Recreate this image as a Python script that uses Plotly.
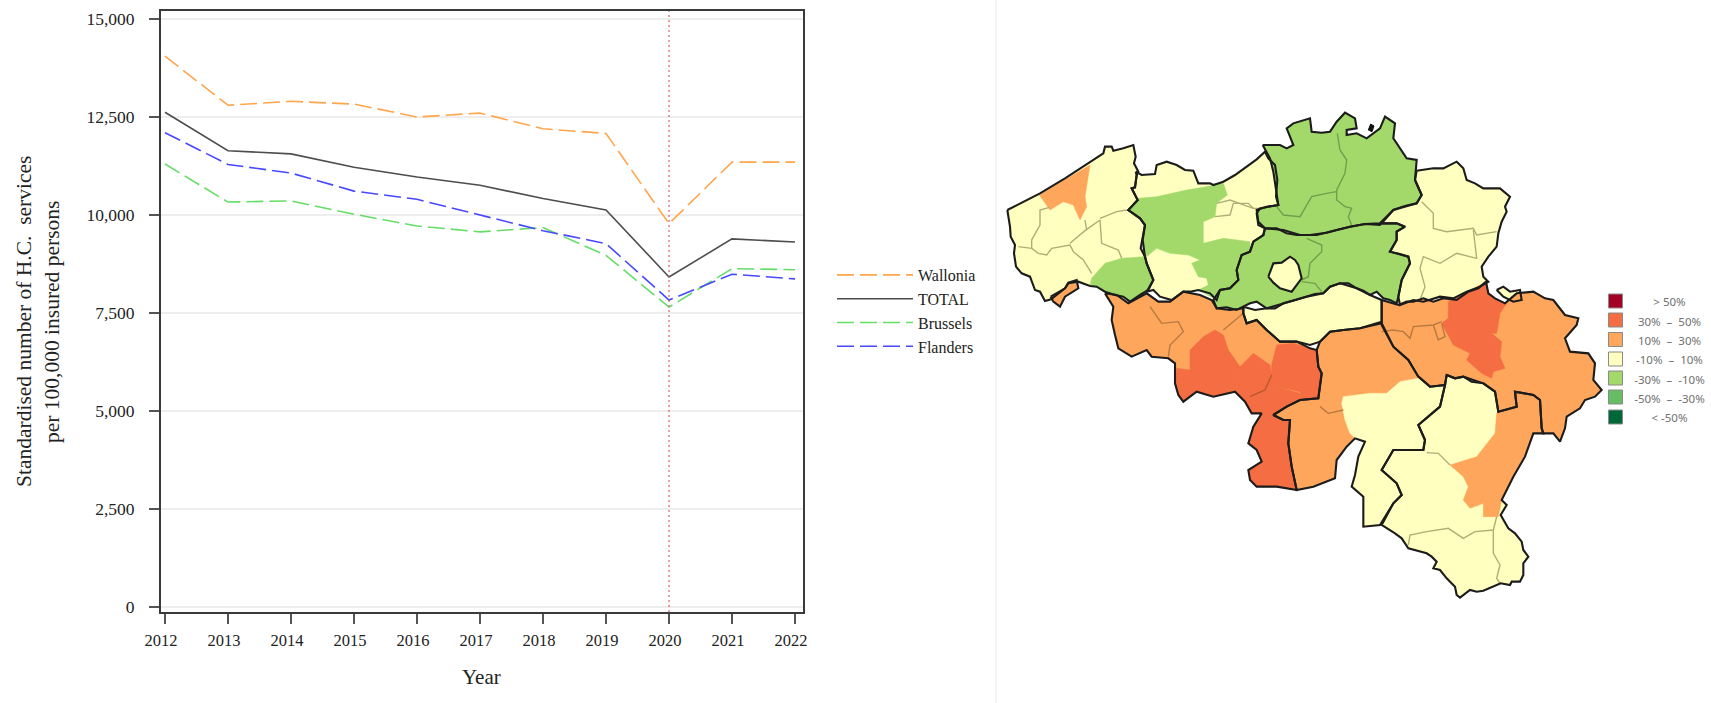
import plotly.graph_objects as go

# ---------- line chart data ----------
YEARS = [2012, 2013, 2014, 2015, 2016, 2017, 2018, 2019, 2020, 2021, 2022]
WALLONIA = [14050, 12800, 12900, 12830, 12500, 12600, 12200, 12080, 9780, 11350, 11350]
TOTAL = [12620, 11640, 11560, 11220, 10970, 10760, 10420, 10130, 8420, 9390, 9310]
BRUSSELS = [11300, 10330, 10360, 10020, 9720, 9570, 9680, 8970, 7650, 8630, 8605]
FLANDERS = [12100, 11290, 11070, 10610, 10400, 10000, 9600, 9270, 7830, 8490, 8370]
Y_TICKS = [0, 2500, 5000, 7500, 10000, 12500, 15000]

# ---------- map legend ----------
CLASS_COLORS = ["#A50026", "#F46D43", "#FDA65C", "#FFFFBF", "#A3D96A", "#66BD63", "#006837"]
CLASS_LABELS = ["> 50%", "30%  –  50%", "10%  –  30%", "-10%  –  10%", "-30%  –  -10%", "-50%  –  -30%", "< -50%"]
RED, ORANGE, YELLOW, GREEN = CLASS_COLORS[1], CLASS_COLORS[2], CLASS_COLORS[3], CLASS_COLORS[4]

# ---------- map geometry (traced, in three local traced frames: units are 1/3 px) ----------
A, B, C = (990, 100), (1080, 270), (1250, 100)

WEST_FLANDERS = [(52,330),(100,305),(150,280),(225,235),(300,185),(340,160),(345,140),(365,140),(370,152),(400,145),(430,135),(437,170),(432,190),(445,215),(440,225),(435,262),(425,265),(443,300),(415,330),(450,355),(465,375),(458,420),(452,445),(465,470),(470,490),(490,540),(475,570),(450,585),(420,605),(400,590),(375,585),(345,575),(320,560),(300,558),(265,545),(235,550),(225,565),(183,598),(165,603),(150,575),(135,570),(120,530),(95,520),(78,500),(72,460),(75,435),(62,410),(60,380)]
EAST_FLANDERS = [(437,215),(455,225),(495,222),(500,195),(530,185),(560,195),(585,210),(610,212),(625,250),(660,250),(670,255),(700,245),(735,225),(770,200),(800,178),(825,155),(835,175),(855,195),(862,240),(858,290),(865,315),(810,325),(800,340),(805,375),(825,385),(820,405),(790,425),(780,455),(755,465),(740,510),(745,540),(720,565),(690,570),(680,600),(660,580),(625,570),(600,575),(580,575),(545,600),(510,590),(490,570),(470,575),(490,540),(470,490),(465,470),(458,420),(465,375),(450,355),(415,330),(443,300),(425,265),(435,262),(440,225)]
ANTWERP = [(38,135),(90,135),(110,145),(130,135),(120,110),(110,85),(130,70),(180,55),(185,95),(215,98),(240,95),(260,65),(285,38),(315,55),(320,85),(290,90),(290,105),(320,100),(350,115),(390,85),(405,50),(435,70),(430,115),(450,145),(470,175),(500,180),(495,240),(515,285),(500,310),(465,318),(430,330),(390,370),(345,372),(300,380),(260,390),(230,398),(200,405),(150,405),(125,398),(100,390),(45,385),(25,365),(20,330),(50,320),(85,315),(78,270),(70,215),(60,175)]
FLEMISH_BRABANT = [(45,385),(80,385),(110,400),(140,405),(180,405),(230,398),(260,390),(300,380),(345,372),(390,375),(395,370),(440,370),(465,380),(440,395),(440,420),(420,455),(450,462),(475,470),(480,490),(455,540),(445,590),(440,610),(420,600),(400,595),(380,575),(360,585),(340,572),(320,565),(295,550),(270,550),(240,560),(220,580),(195,582),(170,590),(135,600),(100,610),(75,625),(50,625),(20,605),(0,610),(-20,620),(-40,630),(-70,622),(-100,625),(-110,600),(-90,570),(-60,565),(-35,540),(-40,510),(-25,465),(0,455),(10,425),(40,405)]
BRUSSELS_REGION = [(55,530),(70,490),(95,488),(120,470),(135,480),(145,495),(155,535),(125,575),(90,565),(70,548)]
LIMBURG = [(500,212),(550,205),(580,205),(620,185),(640,205),(650,240),(675,250),(700,265),(750,265),(780,290),(765,320),(770,335),(755,365),(745,400),(740,440),(715,470),(695,500),(700,530),(715,545),(690,560),(650,575),(610,595),(570,590),(520,605),(490,600),(450,615),(445,590),(455,540),(480,490),(475,470),(420,455),(440,420),(440,395),(465,380),(440,370),(395,370),(430,330),(500,310),(515,285),(495,240)]
VOEREN = [(740,570),(760,560),(780,575),(810,570),(815,600),(790,605),(760,590)]
BAARLE = [(355,90),(362,72),(372,78),(366,95)]
COMINES = [(182,590),(225,565),(235,548),(260,540),(265,565),(225,590),(210,620),(190,605)]

LIEGE = [(905,90),(955,105),(980,95),(1000,95),(1030,85),(1060,95),(1090,85),(1130,90),(1165,65),(1195,55),(1218,35),(1225,70),(1245,85),(1275,100),(1310,70),(1360,65),(1395,85),(1420,90),(1455,135),(1495,145),(1490,165),(1455,205),(1470,245),(1525,250),(1545,280),(1540,330),(1565,360),(1545,380),(1515,390),(1500,415),(1460,440),(1455,475),(1440,515),(1420,490),(1390,490),(1385,475),(1380,390),(1360,375),(1305,365),(1310,410),(1255,425),(1245,365),(1210,340),(1175,335),(1150,320),(1125,325),(1100,315),(1095,345),(1050,350),(1015,320),(985,270),(940,230),(905,165)]
WALLOON_BRABANT = [(490,110),(525,120),(560,115),(610,100),(650,90),(680,80),(730,70),(750,50),(780,40),(830,55),(870,75),(905,90),(905,155),(840,175),(790,180),(750,185),(720,215),(690,225),(650,215),(600,215),(560,180),(530,150),(500,160),(490,130)]
HAINAUT = [(75,70),(110,75),(145,100),(200,70),(235,95),(270,95),(310,65),(360,75),(395,90),(410,115),(450,120),(490,115),(490,130),(500,160),(530,150),(560,180),(600,215),(650,215),(690,235),(710,240),(715,290),(725,310),(715,385),(660,390),(620,410),(580,435),(610,450),(630,450),(625,520),(635,590),(650,660),(620,655),(590,650),(530,650),(510,630),(505,600),(545,575),(530,540),(505,520),(520,470),(545,430),(515,430),(495,395),(465,365),(430,372),(400,380),(350,365),(310,395),(295,375),(285,340),(285,280),(265,265),(215,260),(200,240),(155,260),(115,235),(105,195),(95,150),(100,110)]
NAMUR = [(905,160),(840,175),(790,180),(750,185),(720,215),(710,240),(715,290),(725,310),(715,385),(660,390),(620,410),(580,435),(610,450),(630,450),(625,520),(635,590),(650,660),(700,650),(765,625),(770,570),(800,530),(825,505),(855,515),(835,560),(825,615),(815,650),(850,680),(850,770),(900,765),(940,700),(965,675),(950,640),(905,600),(940,540),(1030,540),(1035,510),(1015,465),(1080,410),(1095,345),(1050,350),(1015,320),(985,270),(940,230)]
LUXEMBOURG = [(1100,315),(1125,325),(1150,320),(1210,340),(1245,365),(1255,425),(1310,410),(1305,365),(1360,375),(1380,390),(1385,475),(1390,490),(1360,490),(1335,560),(1300,620),(1280,660),(1265,690),(1280,705),(1262,735),(1285,775),(1305,790),(1325,815),(1330,840),(1345,860),(1330,880),(1330,915),(1320,935),(1295,935),(1290,945),(1262,940),(1240,950),(1210,962),(1190,965),(1170,960),(1140,983),(1130,975),(1125,950),(1100,925),(1080,900),(1060,895),(1070,875),(1055,860),(1040,850),(1005,840),(985,835),(965,805),(945,790),(905,765),(940,700),(965,675),(950,640),(905,600),(940,540),(1030,540),(1035,510),(1015,465),(1080,410),(1095,345)]

OSTEND = [(148,285),(300,195),(285,290),(290,320),(270,360),(250,315),(220,305),(180,330)]
KORTRIJK = [(305,535),(345,490),(395,475),(450,470),(465,470),(490,540),(475,570),(420,605),(400,590),(345,575),(320,560),(300,555)]
GENT = [(420,330),(445,295),(500,290),(590,270),(640,262),(700,250),(712,285),(680,310),(675,350),(640,365),(640,435),(630,480),(595,465),(540,460),(500,445),(470,470),(458,420),(465,375),(450,355)]
AALST = [(640,430),(700,415),(780,425),(780,455),(755,465),(740,510),(745,540),(720,565),(690,570),(680,600),(625,570),(655,555),(650,535),(625,530),(605,490),(630,480)]
MONS = [(290,295),(330,300),(330,240),(370,200),(405,180),(430,195),(445,240),(480,290),(465,360),(400,380),(350,365),(310,395),(295,375),(285,340)]
THUIN = [(465,360),(480,290),(520,250),(570,285),(575,310),(590,350),(660,370),(665,385),(620,410),(580,435),(610,450),(630,450),(625,520),(650,660),(590,650),(530,650),(510,630),(505,600),(545,575),(530,540),(505,520),(520,470),(545,430),(515,430),(495,395)]
CHARLEROI = [(590,225),(640,220),(690,235),(710,240),(715,290),(725,310),(715,385),(665,385),(660,365),(590,350),(575,315),(575,285)]
DINANT = [(790,380),(870,370),(920,370),(960,335),(1015,325),(1050,350),(1095,345),(1080,410),(1015,465),(1035,510),(1030,540),(940,540),(905,600),(950,640),(965,675),(940,700),(900,765),(850,770),(850,680),(815,650),(825,615),(835,560),(855,515),(825,505),(810,490),(795,450),(785,400)]
BASTOGNE = [(1110,585),(1190,560),(1245,490),(1250,430),(1255,425),(1310,410),(1305,365),(1360,375),(1380,390),(1385,475),(1390,490),(1360,490),(1335,560),(1300,620),(1280,660),(1265,690),(1255,740),(1210,740),(1210,700),(1170,715),(1150,690),(1165,650),(1150,620)]
LIEGE_CENTRE = [(1218,35),(1225,70),(1245,85),(1280,100),(1260,130),(1250,190),(1235,190),(1265,215),(1260,260),(1275,295),(1240,305),(1235,325),(1205,310),(1160,270),(1170,250),(1120,225),(1085,160),(1105,145),(1105,95),(1165,65)]

BASE_FILLS = [
    (A, YELLOW, WEST_FLANDERS), (A, YELLOW, EAST_FLANDERS), (C, GREEN, ANTWERP),
    (C, GREEN, FLEMISH_BRABANT), (C, YELLOW, LIMBURG), (C, YELLOW, VOEREN), (C, YELLOW, BRUSSELS_REGION),
    (A, ORANGE, COMINES), (B, ORANGE, LIEGE), (B, YELLOW, WALLOON_BRABANT), (B, ORANGE, HAINAUT),
    (B, ORANGE, NAMUR), (B, YELLOW, LUXEMBOURG),
    (A, ORANGE, OSTEND), (A, GREEN, KORTRIJK), (A, GREEN, GENT), (A, GREEN, AALST),
    (B, RED, MONS), (B, RED, THUIN), (B, RED, CHARLEROI), (B, YELLOW, DINANT), (B, ORANGE, BASTOGNE), (B, RED, LIEGE_CENTRE),
]
THIN_LINES = [
    (A, "#aeae76", [(178,322),(150,330),(150,375),(125,420),(125,445),(145,460),(170,465),(185,445),(240,435),(250,455),(280,480),(305,520)]),
    (A, "#aeae76", [(240,430),(285,392),(330,360),(335,430),(385,450),(395,475)]),
    (A, "#aeae76", [(285,360),(290,390)]), (A, "#aeae76", [(330,355),(380,335),(410,330)]), (A, "#aeae76", [(85,440),(125,445)]),
    (A, "#aeae76", [(680,310),(720,300),(790,325),(810,325)]), (A, "#aeae76", [(675,350),(720,345),(730,310),(775,310),(790,325)]),
    (C, "#6fa04d", [(170,415),(215,435),(215,455),(180,490),(175,530),(155,540)]), (C, "#6fa04d", [(155,545),(195,550),(215,575)]),
    (C, "#6fa04d", [(262,100),(270,150),(290,180),(285,220),(260,270),(260,300),(285,320),(305,325),(295,350),(305,375)]),
    (C, "#6fa04d", [(260,275),(230,280),(185,290),(150,350),(100,345),(80,320)]),
    (C, "#aeae76", [(515,305),(550,340),(550,385),(590,395),(670,385),(680,405),(740,395)]),
    (C, "#aeae76", [(670,390),(680,475),(620,460),(570,490),(520,470),(510,505),(525,560),(510,600)]),
    (B, "#aeae76", [(1040,548),(1075,550),(1110,585)]),
    (B, "#aeae76", [(985,825),(990,795),(1040,785),(1105,775),(1150,805),(1185,785),(1240,780),(1250,740)]),
    (B, "#aeae76", [(1240,780),(1240,850),(1260,885),(1250,925),(1260,940)]),
    (B, "#b87a40", [(720,410),(745,430),(790,420)]),
    (B, "#b87a40", [(905,185),(940,180),(970,185),(990,205),(1000,170),(1060,165),(1085,155)]),
    (B, "#b87a40", [(1060,165),(1075,210),(1095,200),(1085,160)]),
    (B, "#b87a40", [(210,110),(245,160),(295,155),(310,185),(270,225),(265,260)]),
    (B, "#b87a40", [(490,130),(430,180)]),
    (B, "#b85a30", [(575,315),(555,360),(510,380)]),
]
THICK_OUTLINES = [
    (A, WEST_FLANDERS), (A, EAST_FLANDERS), (C, ANTWERP), (C, FLEMISH_BRABANT), (C, BRUSSELS_REGION),
    (C, LIMBURG), (C, VOEREN), (A, COMINES), (B, LIEGE), (B, WALLOON_BRABANT), (B, HAINAUT), (B, NAMUR), (B, LUXEMBOURG),
]


def to_px(origin, pts):
    return [origin[0] + p[0] / 3 for p in pts], [origin[1] + p[1] / 3 for p in pts]


def closed(seq):
    return list(seq) + [seq[0]]


fig = go.Figure()

SERIF = "Liberation Serif"
SERIES = [
    ("Wallonia", WALLONIA, "#FFA64D", "17px,6px"),
    ("TOTAL", TOTAL, "#4d4d4d", "solid"),
    ("Brussels", BRUSSELS, "#66DD66", "17px,6px"),
    ("Flanders", FLANDERS, "#4848FF", "17px,6px"),
]
for name, values, color, dash in SERIES:
    fig.add_trace(go.Scatter(x=YEARS, y=values, name=name, mode="lines", legendgroup=name,
                             line=dict(color=color, width=1.6, dash=dash), hoverinfo="skip"))

# map fills
for origin, color, pts in BASE_FILLS:
    xs, ys = to_px(origin, closed(pts))
    fig.add_trace(go.Scatter(x=xs, y=ys, xaxis="x2", yaxis="y2", mode="lines", fill="toself", fillcolor=color,
                             line=dict(color=color, width=0.5), showlegend=False, hoverinfo="skip"))
for origin, color, pts in THIN_LINES:
    xs, ys = to_px(origin, pts)
    fig.add_trace(go.Scatter(x=xs, y=ys, xaxis="x2", yaxis="y2", mode="lines",
                             line=dict(color=color, width=1.4), showlegend=False, hoverinfo="skip"))
for origin, pts in THICK_OUTLINES:
    xs, ys = to_px(origin, closed(pts))
    fig.add_trace(go.Scatter(x=xs, y=ys, xaxis="x2", yaxis="y2", mode="lines",
                             line=dict(color="#1c1c1c", width=2.1), showlegend=False, hoverinfo="skip"))
xs, ys = to_px(C, closed(BAARLE))
fig.add_trace(go.Scatter(x=xs, y=ys, xaxis="x2", yaxis="y2", mode="lines", fill="toself", fillcolor="#111",
                         line=dict(color="#111", width=1), showlegend=False, hoverinfo="skip"))

# map legend
LEG_X, LEG_TEXT_X = 1615.5, 1669.5
LEG_Y = [301, 320, 339.5, 359, 378, 397, 417]
LEG_TEXT_Y = [303.5, 323, 342, 361, 381, 400, 419]
fig.add_trace(go.Scatter(x=[LEG_X] * 7, y=LEG_Y, xaxis="x2", yaxis="y2", mode="markers",
                         marker=dict(symbol="square", size=14, color=CLASS_COLORS, line=dict(color="#8a8a8a", width=1)),
                         showlegend=False, hoverinfo="skip"))
fig.add_trace(go.Scatter(x=[LEG_TEXT_X] * 7, y=LEG_TEXT_Y, xaxis="x2", yaxis="y2", mode="text", text=CLASS_LABELS,
                         textposition="middle center", textfont=dict(family="Noto Sans", size=11.5, color="#707070"),
                         showlegend=False, hoverinfo="skip"))

W, H = 1711, 703
fig.update_layout(
    width=W, height=H, margin=dict(l=0, r=0, t=0, b=0, autoexpand=False), autosize=False,
    paper_bgcolor="white", plot_bgcolor="rgba(0,0,0,0)", font=dict(family=SERIF, color="#222222"),
    xaxis=dict(domain=[161 / W, 803 / W], range=[2012 - 4 / 63, 2022 + 8 / 63], tickmode="array", tickvals=YEARS,
               ticks="outside", ticklen=10, tickcolor="#555555", tickwidth=1.5, showgrid=False, zeroline=False,
               showline=True, linecolor="#3a3a3a", linewidth=2, mirror=True, ticklabelshift=-4, ticklabelstandoff=2,
               tickfont=dict(size=16.5, family=SERIF, color="#222222")),
    yaxis=dict(domain=[(H - 612) / H, (H - 11) / H], range=[(607 - 612) * 2500 / 98, (607 - 11) * 2500 / 98],
               tickmode="array", tickvals=Y_TICKS, tickformat=",d", ticks="outside", ticklen=10, tickcolor="#555555",
               tickwidth=1.5, showgrid=True, gridcolor="#eeeeee", gridwidth=1.5, zeroline=False, showline=True,
               linecolor="#3a3a3a", linewidth=2, mirror=True, ticklabelstandoff=11,
               tickfont=dict(size=17.5, family=SERIF, color="#222222")),
    xaxis2=dict(domain=[0, 1], range=[0, W], visible=False, fixedrange=True),
    yaxis2=dict(domain=[0, 1], range=[H, 0], visible=False, fixedrange=True),
    legend=dict(x=832 / W, y=(H - 258) / H, xanchor="left", yanchor="top", bgcolor="rgba(0,0,0,0)",
                tracegroupgap=0, itemwidth=76, font=dict(family=SERIF, size=16, color="#222222"),
                traceorder="grouped"),
    shapes=[
        dict(type="line", xref="x", yref="paper", x0=2020, x1=2020, y0=(H - 612) / H, y1=(H - 11) / H,
             line=dict(color="#d9626a", width=1.2, dash="2px,3px")),
        dict(type="line", xref="paper", yref="paper", x0=996 / W, x1=996 / W, y0=0, y1=1,
             line=dict(color="#f1f1f1", width=1.5)),
    ],
    annotations=[
        dict(text="Standardised number of H.C.  services", xref="paper", yref="paper", x=24 / W, y=(H - 322) / H,
             textangle=-90, showarrow=False, xanchor="center", yanchor="middle", font=dict(size=21.5, family=SERIF)),
        dict(text="per 100,000 insured persons", xref="paper", yref="paper", x=52 / W, y=(H - 322) / H,
             textangle=-90, showarrow=False, xanchor="center", yanchor="middle", font=dict(size=21.5, family=SERIF)),
        dict(text="Year", xref="paper", yref="paper", x=482 / W, y=(H - 677) / H, showarrow=False,
             xanchor="center", yanchor="middle", font=dict(size=21, family=SERIF)),
    ],
)
fig.write_html("out.html", config={"displayModeBar": False},
               post_script="document.body.style.margin='0';document.body.style.overflow='hidden';")
